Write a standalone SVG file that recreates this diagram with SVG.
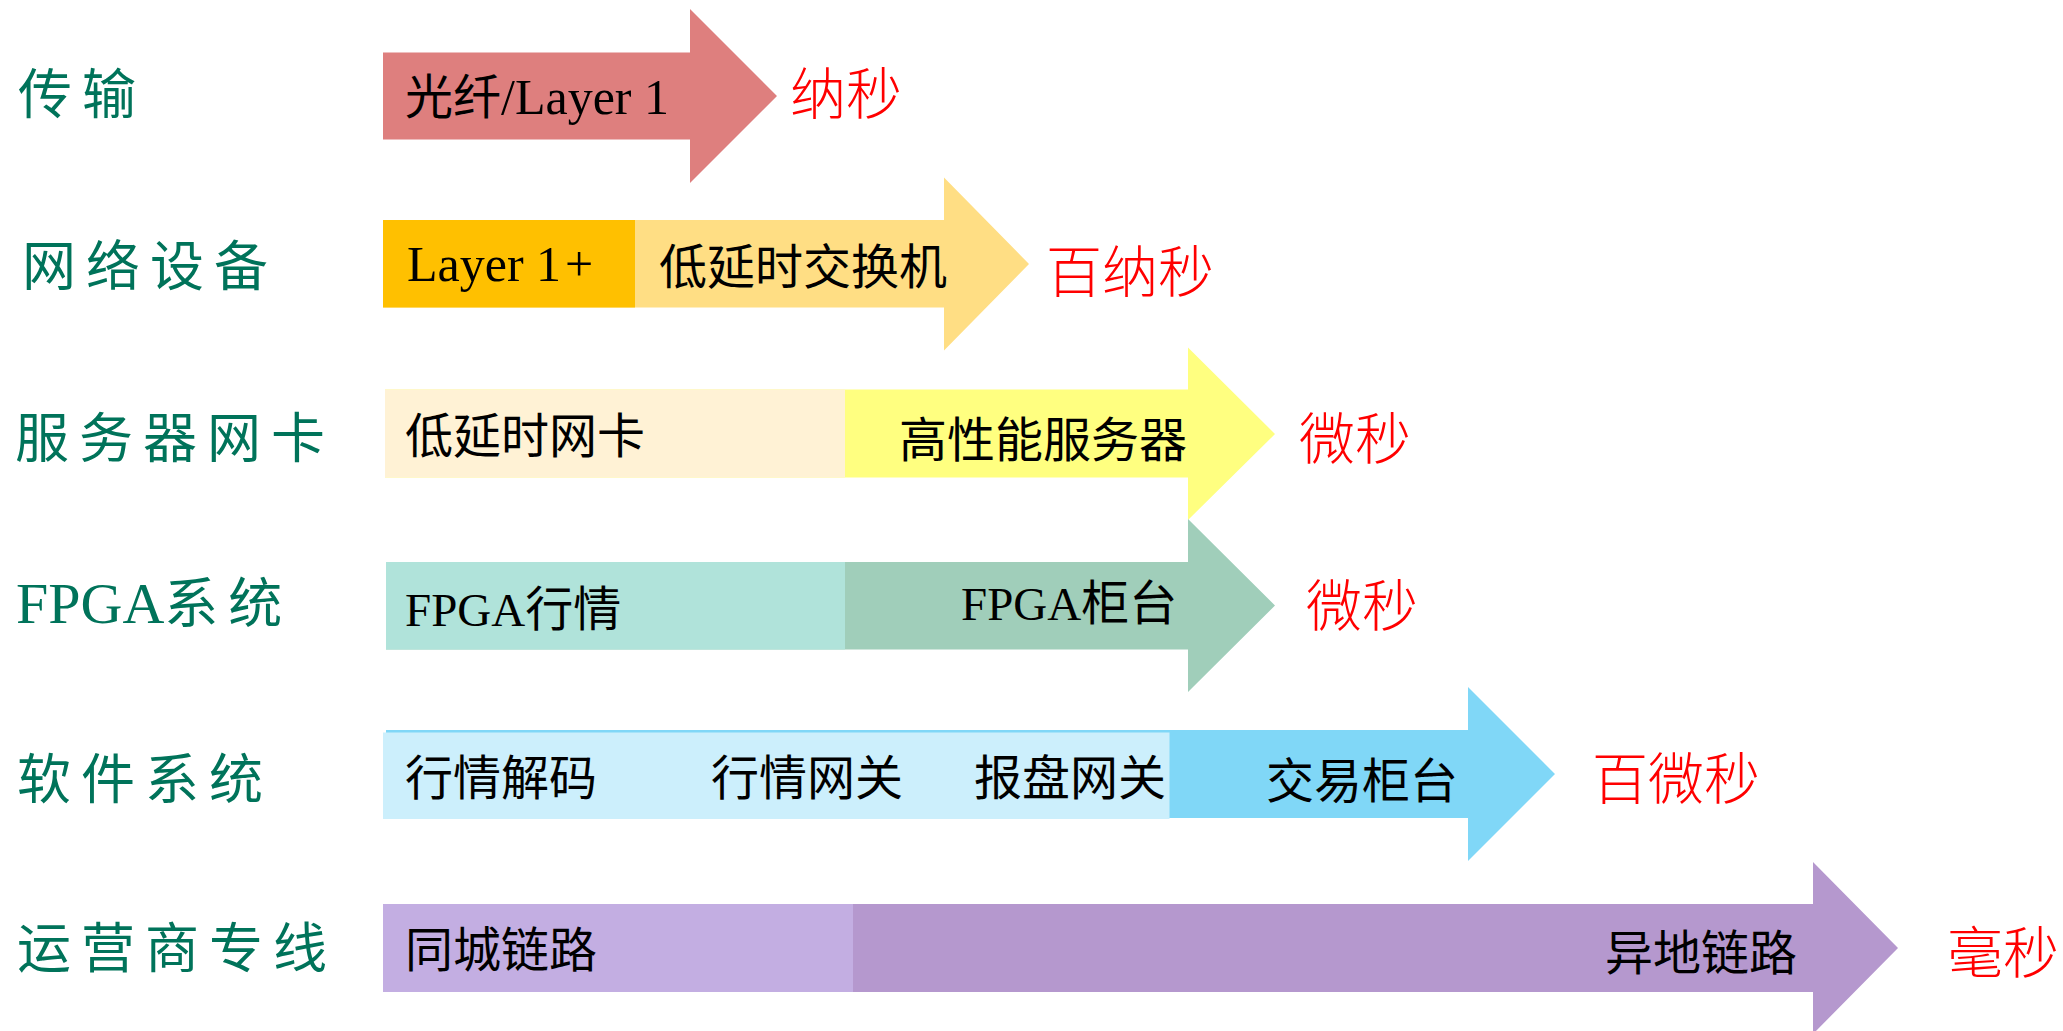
<svg xmlns="http://www.w3.org/2000/svg" width="2063" height="1031" viewBox="0 0 2063 1031">
<style>
.lbl{font-family:"Noto Sans CJK SC","Noto Sans",sans-serif;font-size:54px;fill:#00735A;letter-spacing:10px}
.lbs{font-family:"Liberation Serif","Noto Sans CJK SC",serif;font-size:58px;fill:#00735A}
.t{font-family:"Noto Sans CJK SC","Noto Sans",sans-serif;font-size:48px;fill:#000}
.ts{font-family:"Liberation Serif","Noto Sans CJK SC",serif;font-size:47px;fill:#000}
.tl{font-family:"Liberation Serif","Noto Sans CJK SC",serif;font-size:50px;fill:#000}
.r{font-family:"Noto Sans CJK SC","Noto Sans",sans-serif;font-size:56px;font-weight:300;fill:#FF0000}
</style>
<rect width="2063" height="1031" fill="#FFFFFF"/>
<g id="row-transport">
<text class="lbl" x="18" y="114">传输</text>
<polygon points="383,52.5 690,52.5 690,9 777,96 690,183 690,139.5 383,139.5" fill="#DE7F7E"/>
<text class="t" x="405" y="114">光纤<tspan class="tl">/Layer 1</tspan></text>
<text class="r" x="790" y="114">纳秒</text>
</g>
<g id="row-network">
<text class="lbl" x="22" y="286">网络设备</text>
<polygon points="383,220 944,220 944,177.5 1029,264 944,350.5 944,307.5 383,307.5" fill="#FFDE84"/>
<rect x="383" y="220" width="252" height="87.5" fill="#FFC000"/>
<text class="tl" x="407" y="281">Layer 1<tspan dx="4">+</tspan></text>
<text class="t" x="659" y="284">低延时交换机</text>
<text class="r" x="1046" y="292">百纳秒</text>
</g>
<g id="row-server">
<text class="lbl" x="15" y="458">服务器网卡</text>
<polygon points="385,389.5 1188,389.5 1188,347.5 1275,434 1188,520 1188,477.5 385,477.5" fill="#FFFF80"/>
<rect x="385" y="389.5" width="460" height="88" fill="#FFF2D5"/>
<text class="t" x="405" y="453">低延时网卡</text>
<text class="t" x="899" y="457">高性能服务器</text>
<text class="r" x="1299" y="459">微秒</text>
</g>
<g id="row-fpga">
<text class="lbs" x="16" y="623">FPGA<tspan class="lbl">系统</tspan></text>
<polygon points="386,562 1188,562 1188,519 1275,605.5 1188,692 1188,649.5 386,649.5" fill="#A0CEBA"/>
<rect x="386" y="562" width="459" height="87.5" fill="#B0E3DA"/>
<text class="ts" x="405" y="626">FPGA<tspan class="t">行情</tspan></text>
<text class="ts" x="961" y="620">FPGA<tspan class="t">柜台</tspan></text>
<text class="r" x="1306" y="626">微秒</text>
</g>
<g id="row-software">
<text class="lbl" x="17" y="799">软件系统</text>
<polygon points="386,730 1468,730 1468,687 1555,774 1468,861 1468,818 386,818" fill="#80D7F7"/>
<rect x="383" y="732.5" width="786.5" height="86.5" fill="#CCEFFC"/>
<text class="t" x="405" y="795">行情解码</text>
<text class="t" x="711" y="795">行情网关</text>
<text class="t" x="974" y="795">报盘网关</text>
<text class="t" x="1266" y="798">交易柜台</text>
<text class="r" x="1592" y="799">百微秒</text>
</g>
<g id="row-carrier">
<text class="lbl" x="17" y="968">运营商专线</text>
<polygon points="383,904 1813,904 1813,862 1898,948 1813,1034 1813,992 383,992" fill="#B598CE"/>
<rect x="383" y="904" width="470" height="88" fill="#C3AEE2"/>
<text class="t" x="405" y="967">同城链路</text>
<text class="t" x="1605" y="970">异地链路</text>
<text class="r" x="1947" y="973">毫秒</text>
</g>
<g id="connectors"/>
</svg>
